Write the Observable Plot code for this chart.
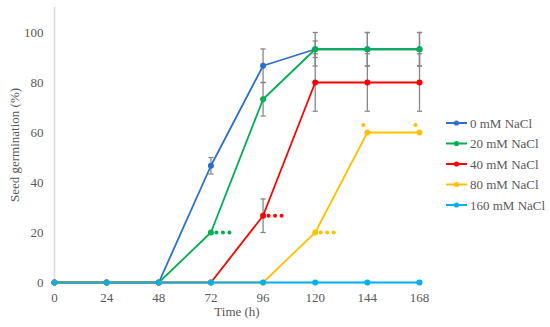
<!DOCTYPE html>
<html>
<head>
<meta charset="utf-8">
<script src="https://cdn.jsdelivr.net/npm/d3@7"></script>
<script src="https://cdn.jsdelivr.net/npm/@observablehq/plot@0.6"></script>
<style>
  body { margin: 0; background: #fff; }
  #wrap { position: relative; width: 550px; height: 327px; font-family: "Liberation Serif", "Times New Roman", serif; }
  #wrap svg, #wrap svg text { font-family: "Liberation Serif", "Times New Roman", serif !important; }
  #legend { position: absolute; left: 0; top: 0; }
</style>
</head>
<body>
<div id="wrap"></div>
<script>
// ---- data ----
const times = [0, 24, 48, 72, 96, 120, 144, 168];
const seriesNames = ["0 mM NaCl", "20 mM NaCl", "40 mM NaCl", "80 mM NaCl", "160 mM NaCl"];
const seriesColors = ["#2a6fd0", "#00b050", "#ff0000", "#ffc000", "#00b0f0"];
const values0   = [0, 0, 0, 46.7, 86.7, 93.3, 93.3, 93.3];
const values20  = [0, 0, 0, 20, 73.3, 93.3, 93.3, 93.3];
const values40  = [0, 0, 0, 0, 26.7, 80, 80, 80];
const values80  = [0, 0, 0, 0, 0, 20, 60, 60];
const values160 = [0, 0, 0, 0, 0, 0, 0, 0];
const sd0   = [0, 0, 0, 3.3, 6.7, 3.3, 6.7, 6.7];
const sd20  = [0, 0, 0, 0, 6.7, 6.7, 6.7, 6.7];
const sd40  = [0, 0, 0, 0, 6.7, 11.5, 11.5, 11.5];
const sd80  = [0, 0, 0, 0, 0, 0, 0, 0];
const sd160 = [0, 0, 0, 0, 0, 0, 0, 0];
// significance labels (series, time, label)
const sigSeries = ["20 mM NaCl", "40 mM NaCl", "80 mM NaCl", "80 mM NaCl", "80 mM NaCl"];
const sigTimes  = [72, 96, 120, 144, 168];
const sigLabels = ["***", "***", "***", "*", "*"];
const yTicks = [0, 20, 40, 60, 80, 100];
const xTicks = [0, 24, 48, 72, 96, 120, 144, 168];

// ---- build table ----
const allValues = [values0, values20, values40, values80, values160];
const allSd = [sd0, sd20, sd40, sd80, sd160];
const data = [];
seriesNames.forEach((s, i) => times.forEach((t, j) => data.push({series: s, time: t, value: allValues[i][j], sd: allSd[i][j]})));
const errData = data.filter(d => d.sd > 0);
const sig = sigSeries.map((s, i) => {
  const row = data.find(d => d.series === s && d.time === sigTimes[i]);
  return {series: s, time: sigTimes[i], value: row.value, label: sigLabels[i]};
});
const sig3 = sig.filter(d => d.label === "***");
const sig1 = sig.filter(d => d.label === "*");

const capSymbol = { draw(ctx) { ctx.moveTo(-2.6, 0); ctx.lineTo(2.6, 0); } };
const errColor = "#878787";
const textColor = "#595959";
const font = "'Liberation Serif', 'Times New Roman', serif";

const chart = Plot.plot({
  width: 550,
  height: 327,
  marginLeft: 54,
  marginRight: 131,
  marginTop: 7,
  marginBottom: 45,
  style: {fontFamily: font, fontSize: "13px", color: textColor, background: "white"},
  x: {domain: [0, 168]},
  y: {domain: [0, 110]},
  color: {domain: seriesNames, range: seriesColors},
  marks: [
    Plot.ruleX([0], {stroke: "#d9d9d9", strokeWidth: 1.5}),
    Plot.ruleY([0], {stroke: "#d9d9d9", strokeWidth: 1.5}),
    Plot.axisY({ticks: yTicks, tickSize: 0, tickPadding: 11, label: null, fontSize: 13, fill: textColor}),
    Plot.axisX({ticks: xTicks, tickSize: 0, tickPadding: 10, label: null, fontSize: 13, fill: textColor}),
    Plot.text(["Time (h)"], {frameAnchor: "bottom", dy: 33, fontSize: 13, fill: textColor}),
    Plot.text(["Seed germination (%)"], {frameAnchor: "left", textAnchor: "middle", rotate: -90, dx: -40, fontSize: 13, fill: textColor}),
    // error bars
    Plot.ruleX(errData, {x: "time", y1: d => d.value - d.sd, y2: d => d.value + d.sd, stroke: errColor, strokeWidth: 1.3}),
    Plot.dot(errData, {x: "time", y: d => d.value - d.sd, symbol: capSymbol, stroke: errColor, strokeWidth: 1.3, fill: "none"}),
    Plot.dot(errData, {x: "time", y: d => d.value + d.sd, symbol: capSymbol, stroke: errColor, strokeWidth: 1.3, fill: "none"}),
    // lines
    Plot.line(data, {x: "time", y: "value", z: "series", stroke: "series", strokeWidth: 1.8}),
    Plot.dot(data, {x: "time", y: "value", fill: "series", r: 3}),
    // significance markers
    Plot.dot(sig3, {x: "time", y: "value", fill: "series", r: 2, dx: 5.5}),
    Plot.dot(sig3, {x: "time", y: "value", fill: "series", r: 2, dx: 12}),
    Plot.dot(sig3, {x: "time", y: "value", fill: "series", r: 2, dx: 18.5}),
    Plot.dot(sig1, {x: "time", y: "value", fill: "series", r: 2, dx: -4, dy: -7.5})
  ]
});
const wrap = document.getElementById("wrap");
wrap.appendChild(chart);

// ---- legend ----
const leg = d3.select(wrap).append("svg").attr("id", "legend").attr("width", 550).attr("height", 327);
const rowY0 = 123, rowStep = 20.5;
seriesNames.forEach((s, i) => {
  const g = leg.append("g").attr("transform", `translate(0,${rowY0 + i * rowStep})`);
  g.append("line").attr("x1", 446).attr("x2", 467).attr("y1", 0).attr("y2", 0).attr("stroke", seriesColors[i]).attr("stroke-width", 2);
  g.append("circle").attr("cx", 456.5).attr("cy", 0).attr("r", 2.6).attr("fill", seriesColors[i]);
  g.append("text").attr("x", 470).attr("y", 0).attr("dy", "0.35em").attr("font-size", 13).attr("fill", textColor).text(s);
});
</script>
</body>
</html>
